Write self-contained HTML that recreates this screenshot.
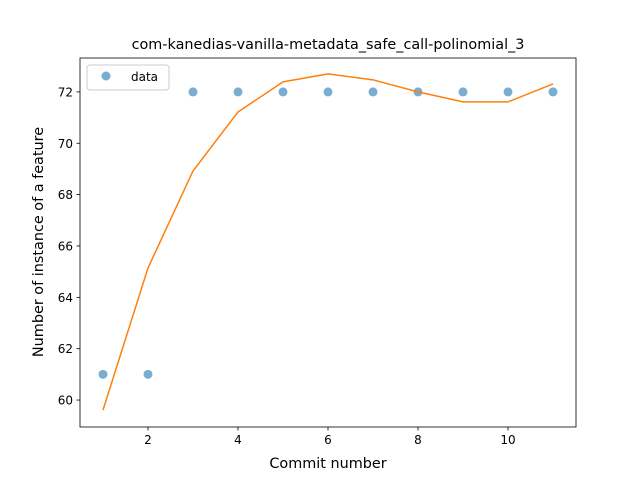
<!DOCTYPE html>
<html><head><meta charset="utf-8"><style>
body{margin:0;background:#fff;}
svg text{font-family:"DejaVu Sans","Liberation Sans",sans-serif;}
</style></head><body>
<svg id="chart" width="640" height="480" xmlns="http://www.w3.org/2000/svg">
<rect width="640" height="480" fill="#fff"/>
<text x="328" y="49" text-anchor="middle" font-size="14.4">com-kanedias-vanilla-metadata_safe_call-polinomial_3</text>
<g id="plot"></g>
<rect x="80" y="58" width="496" height="369" fill="none" stroke="#000" stroke-width="0.8"/>
<text x="328" y="468" text-anchor="middle" font-size="14.4">Commit number</text>
<text transform="translate(43,242) rotate(-90)" text-anchor="middle" font-size="14.4">Number of instance of a feature</text>
<g>
<rect x="87" y="65" width="82" height="25" rx="3" fill="#fff" fill-opacity="0.8" stroke="#ccc"/>
<circle cx="106" cy="76" r="4.5" fill="#1f77b4" fill-opacity="0.6"/>
<text x="131" y="81" font-size="12">data</text>
</g>
</svg>
<script>
const commits=[1,2,3,4,5,6,7,8,9,10,11];
const dataValues=[61,61,72,72,72,72,72,72,72,72,72];
const fitValues=[59.61,65.14,68.92,71.22,72.39,72.70,72.47,72.0,71.61,71.61,72.31];
const xTicks=[2,4,6,8,10];
const yTicks=[60,62,64,66,68,70,72];
const NS="http://www.w3.org/2000/svg";
const L=80,R=576,T=58,B=427,xMin=0.489,xMax=11.511,yMin=58.95,yMax=73.32;
const xs=v=>L+(v-xMin)/(xMax-xMin)*(R-L);
const ys=v=>B-(v-yMin)/(yMax-yMin)*(B-T);
const g=document.getElementById('plot');
function mk(tag,attrs){const e=document.createElementNS(NS,tag);for(const k in attrs)e.setAttribute(k,attrs[k]);g.appendChild(e);return e;}
xTicks.forEach(t=>{
  const l=mk('line',{x1:xs(t),x2:xs(t),y1:B,y2:B+3.5,stroke:'#000','stroke-width':0.8});
  
  
  const tx=mk('text',{x:xs(t),y:B+17,'text-anchor':'middle','font-size':12});
  tx.textContent=t;
  
  
});
yTicks.forEach(t=>{
  const l=mk('line',{x1:L-3.5,x2:L,y1:ys(t),y2:ys(t),stroke:'#000','stroke-width':0.8});
  
  
  const tx=mk('text',{x:L-7,y:ys(t)+4.5,'text-anchor':'end','font-size':12});
  tx.textContent=t;
  
  
});
commits.forEach((c,i)=>{
  const p=mk('circle',{cx:xs(c),cy:ys(dataValues[i]),r:4.5,fill:'#1f77b4','fill-opacity':0.6});
  
  
});
const line=mk('polyline',{points:commits.map((c,i)=>xs(c)+','+ys(fitValues[i])).join(' '),fill:'none',stroke:'#ff7f0e','stroke-width':1.5});


</script>
</body></html>
